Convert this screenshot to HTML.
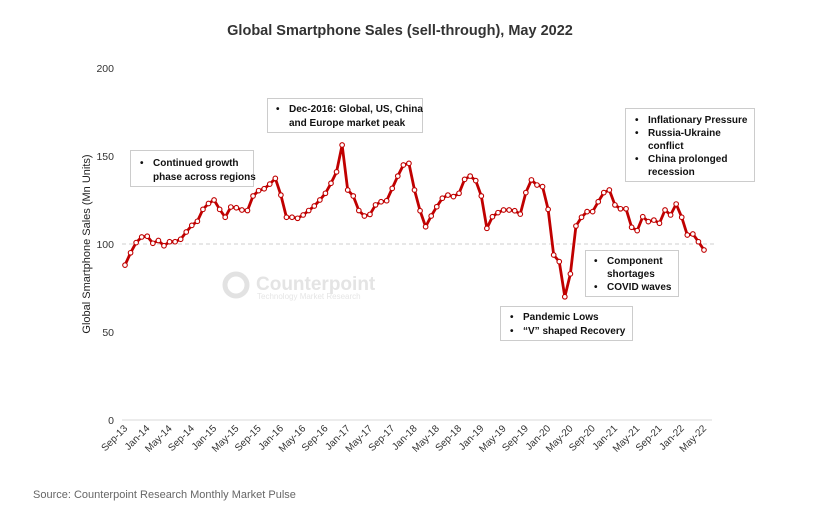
<!DOCTYPE html>
<html><head><meta charset="utf-8"><style>
body{margin:0;background:#fff;}
svg{display:block;font-family:"Liberation Sans",sans-serif;}
</style></head><body>
<svg id="chart" width="814" height="518">
<text x="400" y="35" text-anchor="middle" font-size="14.5" font-weight="bold" fill="#333">Global Smartphone Sales (sell-through), May 2022</text>
<g>
<circle cx="236" cy="285" r="11" fill="none" stroke="#e2e2e2" stroke-width="5"/>
<text x="256" y="290" font-size="19" font-weight="bold" fill="#e4e4e4">Counterpoint</text>
<text x="257" y="299" font-size="8" fill="#e6e6e6">Technology Market Research</text>
</g>
<g id="axes"></g>
<g id="series"></g>
<g>
<rect x="130.5" y="150.5" width="123" height="36" fill="#fff" stroke="#ccc"/>
<text font-size="10" font-weight="bold" fill="#111"><tspan x="140" y="166">•</tspan><tspan x="153" y="166">Continued growth</tspan><tspan x="153" y="180">phase across regions</tspan></text>
</g>
<g>
<rect x="267.5" y="98.5" width="155" height="34" fill="#fff" stroke="#ccc"/>
<text font-size="10" font-weight="bold" fill="#111"><tspan x="276" y="112">•</tspan><tspan x="289" y="112">Dec-2016: Global, US, China</tspan><tspan x="289" y="126">and Europe market peak</tspan></text>
</g>
<g>
<rect x="625.5" y="108.5" width="129" height="73" fill="#fff" stroke="#ccc"/>
<text font-size="10" font-weight="bold" fill="#111"><tspan x="635" y="123">•</tspan><tspan x="648" y="123">Inflationary Pressure</tspan><tspan x="635" y="136">•</tspan><tspan x="648" y="136">Russia-Ukraine</tspan><tspan x="648" y="149">conflict</tspan><tspan x="635" y="162">•</tspan><tspan x="648" y="162">China prolonged</tspan><tspan x="648" y="175">recession</tspan></text>
</g>
<g>
<rect x="585.5" y="250.5" width="93" height="46" fill="#fff" stroke="#ccc"/>
<text font-size="10" font-weight="bold" fill="#111"><tspan x="594" y="264">•</tspan><tspan x="607" y="264">Component</tspan><tspan x="607" y="277">shortages</tspan><tspan x="594" y="290">•</tspan><tspan x="607" y="290">COVID waves</tspan></text>
</g>
<g>
<rect x="500.5" y="306.5" width="132" height="34" fill="#fff" stroke="#ccc"/>
<text font-size="10" font-weight="bold" fill="#111"><tspan x="510" y="320">•</tspan><tspan x="523" y="320">Pandemic Lows</tspan><tspan x="510" y="334">•</tspan><tspan x="523" y="334">“V” shaped Recovery</tspan></text>
</g>
<text x="33" y="498" font-size="11" fill="#666">Source: Counterpoint Research Monthly Market Pulse</text>
</svg>
<script>
const sales = [88,95,100.8,104,104.4,100.4,102,99,101.3,101.3,102.7,106.8,110.6,112.9,119.7,123,125,119.7,115.2,121,120.6,119.3,119,127.3,130.3,131.4,134,137.3,127.8,115.2,115.2,114.6,116.5,119,121.6,125,128.8,134.5,141,156.25,130.7,127.3,119,115.9,116.8,122.2,124,124.6,131.6,138.6,144.9,145.8,130.7,118.9,109.8,115.9,121.2,126,127.8,126.9,128.8,136.7,138.6,136,127.3,108.9,115.5,117.8,119.3,119.3,118.9,117,129.2,136.4,133.5,132.6,119.7,93.75,90,70,83,110.2,115.2,118.4,118.4,124,129.2,130.7,122.2,120,120,109.5,107.6,115.5,112.7,113.6,111.8,119.3,116.5,122.7,115.2,105.1,105.7,101.3,96.6];
const monthNames = ["Jan","Feb","Mar","Apr","May","Jun","Jul","Aug","Sep","Oct","Nov","Dec"];
const yTicks = [0,50,100,150,200];
const refLevel = [100];
const startMonth = 8, startYear = 13;

const NS = "http://www.w3.org/2000/svg";
const x0 = 125, x1 = 704, yBase = 420, yTop = 68;
const xs = i => x0 + (x1 - x0) * i / (sales.length - 1);
const ys = v => yBase - (yBase - yTop) * v / 200;
function mk(tag, attrs, parent){const e=document.createElementNS(NS,tag);for(const k in attrs)e.setAttribute(k,attrs[k]);parent.appendChild(e);return e;}
const axes = document.getElementById('axes'), series = document.getElementById('series');

const base = mk('line',{x1:122,x2:712,y1:yBase,y2:yBase,stroke:'#d9d9d9','stroke-width':1},axes);


refLevel.forEach(r=>{
  const l = mk('line',{x1:122,x2:716,y1:ys(r),y2:ys(r),stroke:'#cfcfcf','stroke-dasharray':'4,3','stroke-width':1},axes);
  
  
});
yTicks.forEach(t=>{
  const tx = mk('text',{x:114,y:ys(t)+4,'text-anchor':'end','font-size':10.5,fill:'#333'},axes);
  tx.textContent = t;
  
  
});
const yt = mk('text',{transform:'translate(90,244) rotate(-90)','text-anchor':'middle','font-size':11,fill:'#222'},axes);
yt.textContent = 'Global Smartphone Sales (Mn Units)';



for(let i=0;i<sales.length;i+=4){
  const m=(startMonth+i)%12, y=startYear+Math.floor((startMonth+i)/12);
  const tx = mk('text',{transform:`translate(${xs(i)+3},${yBase+9}) rotate(-45)`,'text-anchor':'end','font-size':10,fill:'#333'},axes);
  tx.textContent = monthNames[m]+'-'+y;
  
  
}
const pl = mk('polyline',{points:sales.map((v,i)=>xs(i)+','+ys(v)).join(' '),fill:'none',stroke:'#c00000','stroke-width':2.8,'stroke-linejoin':'round'},series);


sales.forEach((v,i)=>{
  const c = mk('circle',{cx:xs(i),cy:ys(v),r:2.3,fill:'#fff',stroke:'#c00000','stroke-width':1.1},series);
  
  
});
</script>
</body></html>
